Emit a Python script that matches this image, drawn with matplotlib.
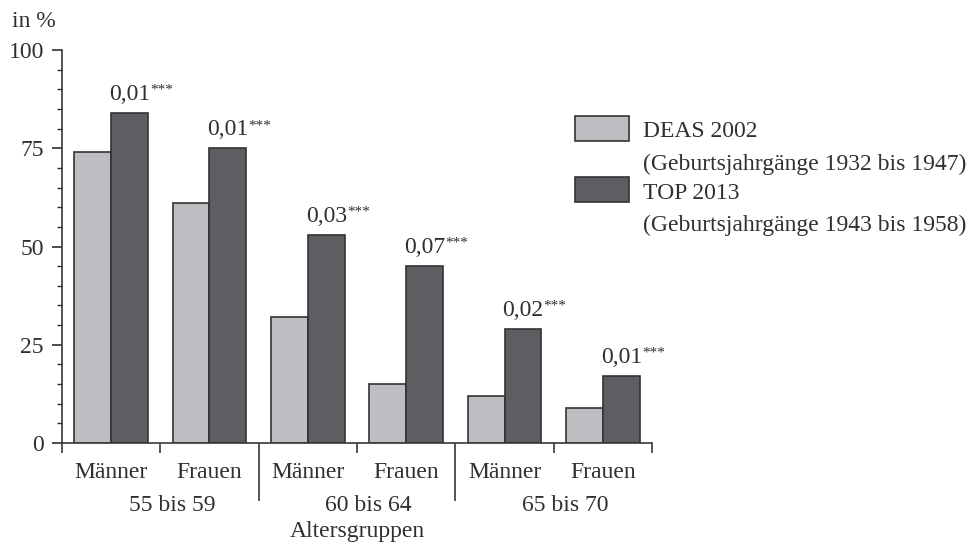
import numpy as np
import matplotlib
matplotlib.use("Agg")
import matplotlib.pyplot as plt
from matplotlib.patches import Rectangle

plt.rcParams['font.family'] = ['Liberation Serif', 'DejaVu Serif']
plt.rcParams['text.color'] = '#303030'
plt.rcParams['axes.edgecolor'] = '#383838'
plt.rcParams['xtick.color'] = '#383838'
plt.rcParams['ytick.color'] = '#303030'

# data
sexes = ["Männer", "Frauen", "Männer", "Frauen", "Männer", "Frauen"]
groups = ["55 bis 59", "60 bis 64", "65 bis 70"]
deas_2002 = [74, 61, 32, 15, 12, 9]
top_2013 = [84, 75, 53, 45, 29, 17]
pvalues = ["0,01", "0,01", "0,03", "0,07", "0,02", "0,01"]
stars = ["***"] * 6
legend_labels = [("DEAS 2002", "(Geburtsjahrgänge 1932 bis 1947)"),
                 ("TOP 2013", "(Geburtsjahrgänge 1943 bis 1958)")]

light = '#bdbec2'
dark = '#5e5e62'
edge = '#333333'
fs = 17

fig = plt.figure(figsize=(9.79, 5.42), dpi=100)
ax = fig.add_axes([0.0633, 0.1827, 0.6027, 0.725])

x = np.arange(len(sexes)) + 0.5
w = 0.375
ax.bar(x - w / 2, deas_2002, w, color=light, edgecolor=edge, linewidth=1.2)
ax.bar(x + w / 2, top_2013, w, color=dark, edgecolor=edge, linewidth=1.2)

# p-values above the TOP bars
for xi, v, p, s in zip(x, top_2013, pvalues, stars):
    ax.annotate(p, (xi + w / 2, v), xytext=(0, 9.4), textcoords='offset points',
                ha='center', va='baseline', fontsize=fs)
    ax.annotate(s, (xi + w / 2, v), xytext=(14.8, 13.8), textcoords='offset points',
                ha='left', va='baseline', fontsize=11)

ax.set_xlim(0, len(sexes))
ax.set_ylim(0, 100)
ax.spines['top'].set_visible(False)
ax.spines['right'].set_visible(False)
ax.spines['left'].set_linewidth(1.2)
ax.spines['bottom'].set_linewidth(1.2)

ax.set_yticks([0, 25, 50, 75, 100])
ax.set_yticks(np.arange(0, 101, 5), minor=True)
ax.tick_params(axis='y', which='major', length=7, width=1.2, labelsize=fs, pad=6)
ax.tick_params(axis='y', which='minor', length=3.5, width=1.0)

ax.set_xticks([0, 1, 3, 5, 6])
ax.set_xticks([2, 4], minor=True)
ax.set_xticklabels([])
ax.tick_params(axis='x', which='major', length=7, width=1.2)
ax.tick_params(axis='x', which='minor', length=42, width=1.2)

for xi, lab in zip(x, sexes):
    ax.text(xi, -8.8, lab, ha='center', va='baseline', fontsize=fs, clip_on=False)
for i, g in enumerate(groups):
    ax.text(2 * i + 1.12, -17.2, g, ha='center', va='baseline', fontsize=fs, clip_on=False)
ax.text(3, -24.0, "Altersgruppen", ha='center', va='baseline', fontsize=fs, clip_on=False)

fig.text(12 / 979, 1 - 27 / 542, "in %", ha='left', va='baseline', fontsize=fs)

# legend drawn by hand
for (l1, l2), col, ytop, b1, b2 in zip(legend_labels, [light, dark], [116, 177], [137, 199], [170, 231]):
    fig.patches.append(Rectangle((575 / 979, 1 - (ytop + 25) / 542), 54 / 979, 25 / 542,
                                 transform=fig.transFigure, facecolor=col,
                                 edgecolor=edge, linewidth=1.2))
    fig.text(643 / 979, 1 - b1 / 542, l1, ha='left', va='baseline', fontsize=fs)
    fig.text(643 / 979, 1 - b2 / 542, l2, ha='left', va='baseline', fontsize=fs)

fig.savefig("out.png", dpi=100)
